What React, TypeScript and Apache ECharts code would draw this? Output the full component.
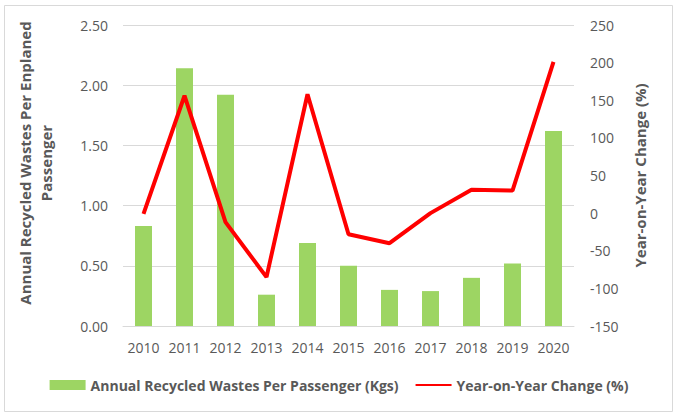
import React, { useEffect, useRef } from "react";
import * as echarts from "echarts";

const years = ["2010", "2011", "2012", "2013", "2014", "2015", "2016", "2017", "2018", "2019", "2020"];
const recycledPerPassenger = [0.83, 2.14, 1.92, 0.26, 0.69, 0.5, 0.3, 0.29, 0.4, 0.52, 1.62];
const yoyChange = [-1, 156, -12, -85, 158, -28, -40, 0, 31, 30, 201];

const barName = "Annual Recycled Wastes Per Passenger (Kgs)";
const lineName = "Year-on-Year Change (%)";
const leftTitle = "Annual Recycled Wastes Per Enplaned\nPassenger";
const rightTitle = "Year-on-Year Change (%)";

const FONT = "'Open Sans', 'Noto Sans', sans-serif";
const GREY = "#595959";

export default function App() {
  const ref = useRef<HTMLDivElement>(null);
  useEffect(() => {
    if (!ref.current) return;
    const chart = echarts.init(ref.current, undefined, { renderer: "svg" });
    chart.setOption({
      animation: false,
      backgroundColor: "#ffffff",
      textStyle: { fontFamily: FONT },
      graphic: [
        {
          type: "rect",
          shape: { x: 4.5, y: 5.5, width: 668, height: 406 },
          style: { fill: "none", stroke: "#D9D9D9", lineWidth: 1 },
          silent: true,
        },
        {
          type: "text",
          x: 35,
          y: 163,
          rotation: Math.PI / 2,
          silent: true,
          style: {
            text: leftTitle,
            fill: GREY,
            fontSize: 15,
            fontWeight: "bold",
            fontFamily: FONT,
            lineHeight: 21,
            align: "center",
            verticalAlign: "middle",
          },
        },
      ],
      grid: { left: 123, right: 104, top: 25, bottom: 92 },
      legend: {
        bottom: 21,
        left: "center",
        itemGap: 16,
        itemWidth: 36,
        itemHeight: 10,
        textStyle: { color: GREY, fontSize: 14, fontWeight: "bold", fontFamily: FONT },
        data: [
          { name: barName, icon: "rect" },
          { name: lineName, itemStyle: { opacity: 0 } },
        ],
      },
      xAxis: {
        type: "category",
        data: years,
        axisTick: { show: false },
        axisLine: { lineStyle: { color: "#D9D9D9" } },
        axisLabel: { color: GREY, fontSize: 14, margin: 14, interval: 0, fontFamily: FONT },
      },
      yAxis: [
        {
          type: "value",
          min: 0,
          max: 2.5,
          interval: 0.5,
          position: "left",
          axisLine: { show: false },
          axisTick: { show: false },
          axisLabel: { color: GREY, fontSize: 14, margin: 15, formatter: (v: number) => v.toFixed(2), fontFamily: FONT },
          splitLine: { lineStyle: { color: "#D9D9D9" } },
        },
        {
          type: "value",
          min: -150,
          max: 250,
          interval: 50,
          position: "right",
          name: rightTitle,
          nameLocation: "middle",
          nameGap: 58,
          nameRotate: 90,
          nameTextStyle: { color: GREY, fontSize: 15, fontWeight: "bold", fontFamily: FONT },
          axisLine: { show: false },
          axisTick: { show: false },
          axisLabel: { color: GREY, fontSize: 14, margin: 16, fontFamily: FONT },
          splitLine: { show: false },
        },
      ],
      series: [
        {
          name: barName,
          type: "bar",
          yAxisIndex: 0,
          data: recycledPerPassenger,
          barWidth: 17,
          itemStyle: { color: "#9DD563" },
        },
        {
          name: lineName,
          type: "line",
          yAxisIndex: 1,
          data: yoyChange,
          symbol: "none",
          lineStyle: { color: "#FF0000", width: 4 },
          itemStyle: { color: "#FF0000" },
        },
      ],
    });
    return () => chart.dispose();
  }, []);
  return (
    <div
      ref={ref}
      style={{ position: "absolute", left: 0, top: 0, width: 678, height: 418 }}
    />
  );
}
